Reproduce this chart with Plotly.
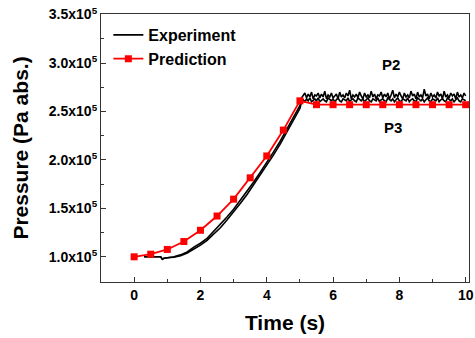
import numpy as np
import plotly.graph_objects as go

# ---- data (pressure in units of 1e5 Pa) ----
pred_t = [0, 0.5, 1.0, 1.5, 2.0, 2.5, 3.0, 3.5, 4.0, 4.5, 5.0, 5.5, 6.0, 6.5, 7.0, 7.5, 8.0, 8.5, 9.0, 9.5, 10.0]
pred_p = [1.00, 1.027, 1.076, 1.158, 1.274, 1.421, 1.595, 1.815, 2.041, 2.308, 2.61,
          2.57, 2.57, 2.57, 2.57, 2.57, 2.57, 2.57, 2.57, 2.57, 2.57]

rise_t = [0.3, 0.5, 0.8, 0.85, 0.9, 1.0, 1.2, 1.4, 1.6, 1.8, 2.0, 2.2, 2.4, 2.6, 2.8, 3.0,
          3.2, 3.4, 3.6, 3.8, 4.0, 4.2, 4.4, 4.6, 4.8, 5.0, 5.05]
p2_rise = [1.00, 1.00, 1.00, 0.975, 0.985, 0.99, 1.00, 1.02, 1.05, 1.10, 1.14, 1.19, 1.26, 1.33,
           1.41, 1.49, 1.58, 1.67, 1.77, 1.87, 1.97, 2.08, 2.19, 2.31, 2.43, 2.56, 2.64]
p3_rise = [1.00, 1.00, 1.00, 0.975, 0.985, 0.99, 0.995, 1.01, 1.04, 1.08, 1.12, 1.17, 1.23, 1.30,
           1.38, 1.46, 1.55, 1.64, 1.74, 1.84, 1.94, 2.05, 2.16, 2.28, 2.40, 2.53, 2.60]

plateau_t = np.round(np.linspace(5.1, 10.0, 99), 3).tolist()
p2_plateau = [
    2.66, 2.69, 2.64, 2.68, 2.65, 2.70, 2.63, 2.67, 2.66, 2.69,
    2.64, 2.68, 2.65, 2.71, 2.63, 2.67, 2.65, 2.69, 2.64, 2.66,
    2.68, 2.63, 2.70, 2.65, 2.67, 2.64, 2.69, 2.66, 2.72, 2.63,
    2.67, 2.65, 2.68, 2.64, 2.70, 2.66, 2.63, 2.69, 2.65, 2.67,
    2.64, 2.71, 2.65, 2.68, 2.63, 2.67, 2.66, 2.70, 2.64, 2.68,
    2.65, 2.69, 2.63, 2.67, 2.72, 2.64, 2.68, 2.65, 2.70, 2.66,
    2.63, 2.69, 2.65, 2.67, 2.64, 2.71, 2.66, 2.68, 2.63, 2.70,
    2.65, 2.67, 2.64, 2.73, 2.66, 2.68, 2.63, 2.69, 2.65, 2.67,
    2.64, 2.70, 2.66, 2.68, 2.63, 2.71, 2.65, 2.67, 2.64, 2.69,
    2.66, 2.68, 2.63, 2.70, 2.65, 2.67, 2.64, 2.69, 2.66]
p3_plateau = [
    2.62, 2.60, 2.63, 2.61, 2.64, 2.60, 2.62, 2.63, 2.61, 2.64,
    2.60, 2.62, 2.63, 2.61, 2.60, 2.64, 2.62, 2.61, 2.63, 2.60,
    2.62, 2.64, 2.61, 2.60, 2.63, 2.62, 2.61, 2.64, 2.60, 2.62,
    2.63, 2.61, 2.60, 2.64, 2.62, 2.61, 2.63, 2.60, 2.62, 2.64,
    2.61, 2.60, 2.63, 2.62, 2.61, 2.64, 2.60, 2.62, 2.63, 2.61,
    2.60, 2.64, 2.62, 2.61, 2.63, 2.60, 2.62, 2.64, 2.61, 2.60,
    2.63, 2.62, 2.61, 2.64, 2.60, 2.62, 2.63, 2.61, 2.60, 2.64,
    2.62, 2.61, 2.63, 2.60, 2.62, 2.64, 2.61, 2.60, 2.63, 2.62,
    2.61, 2.64, 2.60, 2.62, 2.63, 2.61, 2.60, 2.64, 2.62, 2.61,
    2.63, 2.60, 2.62, 2.64, 2.61, 2.60, 2.63, 2.62, 2.61]

y_tickvals = [1.0, 1.5, 2.0, 2.5, 3.0, 3.5]
y_ticktext = ["1.0x10<sup>5</sup>", "1.5x10<sup>5</sup>", "2.0x10<sup>5</sup>",
              "2.5x10<sup>5</sup>", "3.0x10<sup>5</sup>", "3.5x10<sup>5</sup>"]
y_minor = [0.75, 1.25, 1.75, 2.25, 2.75, 3.25]
x_tickvals = [0, 2, 4, 6, 8, 10]
x_minor = [-1, 1, 3, 5, 7, 9]

FONT = "Liberation Sans, Arial, sans-serif"

fig = go.Figure()
fig.add_trace(go.Scatter(x=rise_t + plateau_t, y=p3_rise + p3_plateau, mode="lines",
                         line=dict(color="black", width=1.6), showlegend=False))
fig.add_trace(go.Scatter(x=rise_t + plateau_t, y=p2_rise + p2_plateau, mode="lines",
                         line=dict(color="black", width=1.6), name="Experiment"))
fig.add_trace(go.Scatter(x=pred_t, y=pred_p, mode="lines+markers",
                         line=dict(color="#ff0000", width=1.8),
                         marker=dict(symbol="square", size=7, color="#ff0000"),
                         name="Prediction"))

axis_common = dict(showline=True, linecolor="#333333", linewidth=1.2, mirror=True,
                   ticks="inside", ticklen=5, tickwidth=1, tickcolor="#333333",
                   showgrid=False, zeroline=False, ticklabeloverflow="allow",
                   automargin=False,
                   tickfont=dict(family=FONT, size=14, color="black", weight="bold"))

fig.update_xaxes(range=[-1, 10.1], tickmode="array", tickvals=x_tickvals,
                 minor=dict(tickmode="array", tickvals=x_minor, ticklen=3, ticks="inside",
                            tickcolor="#333333"),
                 title=dict(text="Time (s)", font=dict(family=FONT, size=21, color="black", weight="bold"),
                            standoff=13),
                 **axis_common)
fig.update_yaxes(range=[0.74, 3.506], tickmode="array", tickvals=y_tickvals, ticktext=y_ticktext,
                 minor=dict(tickmode="array", tickvals=y_minor, ticklen=3, ticks="inside",
                            tickcolor="#333333"),
                 title=dict(text="Pressure (Pa abs.)",
                            font=dict(family=FONT, size=21, color="black", weight="bold"),
                            standoff=14),
                 **axis_common)

fig.add_annotation(x=7.75, y=2.98, text="P2", showarrow=False,
                   font=dict(family=FONT, size=15, color="black", weight="bold"))
fig.add_annotation(x=7.8, y=2.33, text="P3", showarrow=False,
                   font=dict(family=FONT, size=15, color="black", weight="bold"))

fig.update_layout(width=475, height=338, margin=dict(l=101, r=6, t=14, b=56, autoexpand=False),
                  paper_bgcolor="white", plot_bgcolor="white",
                  legend=dict(x=0.02, y=0.985, xanchor="left", yanchor="top",
                              bgcolor="rgba(0,0,0,0)", tracegroupgap=0, itemwidth=30,
                              font=dict(family=FONT, size=16, color="black", weight="bold")),
                  showlegend=True)

# remove the default page margin so the figure sits at the window's top-left corner
fig.write_html("out.html", config={"displayModeBar": False},
               post_script="document.body.style.margin='0';")
